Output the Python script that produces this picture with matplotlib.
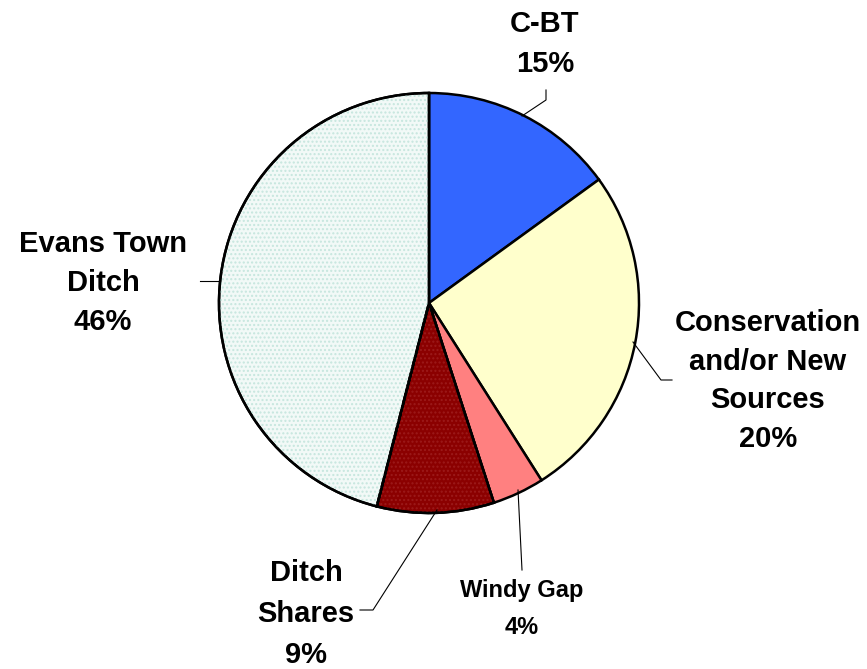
import matplotlib.pyplot as plt
from matplotlib.patches import Wedge

plt.rcParams['font.family'] = ['Liberation Sans', 'DejaVu Sans']

# slice data (clockwise from 12 o'clock)
sources = ["C-BT", "Conservation\nand/or New\nSources", "Windy Gap", "Ditch\nShares", "Evans Town\nDitch"]
shares = [15, 26, 4, 9, 46]          # slice sizes as drawn
label_pcts = ["15%", "20%", "4%", "9%", "46%"]  # percentages printed in labels
colors = ["#3366ff", "#ffffcc", "#ff8080", "#8b0000", "#f2f9f7"]
hatch_colors = [None, None, None, "#9c1a1a", "#c6e6de"]

fig = plt.figure(figsize=(8.67, 6.69), dpi=100)
ax = fig.add_axes([0, 0, 1, 1])

center = (429, 669 - 303)
radius = 210

wedges, _ = ax.pie(shares, colors=colors, startangle=90, counterclock=False,
                   center=center, radius=radius, frame=True,
                   wedgeprops=dict(edgecolor="black", linewidth=1.8))

# dotted texture on two slices, outline redrawn on top
for w, hc in zip(wedges, hatch_colors):
    if hc is None:
        continue
    ax.add_patch(Wedge(w.center, w.r, w.theta1, w.theta2, facecolor="none",
                       edgecolor=hc, linewidth=0, hatch="...."))
    ax.add_patch(Wedge(w.center, w.r, w.theta1, w.theta2, facecolor="none",
                       edgecolor="black", linewidth=1.8))

def Y(y):
    return 669 - y

# leader lines (pixel coordinates of the reference)
leaders = [
    [(522, 116), (546, 100), (546, 90)],
    [(633, 342), (661, 380), (672, 380)],
    [(518, 490), (522, 570)],
    [(437, 510), (373, 610), (360, 610)],
    [(220, 281), (200, 281)],
]
for pts in leaders:
    ax.plot([p[0] for p in pts], [Y(p[1]) for p in pts], color="black", lw=0.8)

big = dict(fontsize=21, fontweight="bold", ha="center", va="center")
ax.text(545, Y(44), sources[0] + "\n" + label_pcts[0], linespacing=1.56, **big)
ax.text(768, Y(381), sources[1] + "\n" + label_pcts[1], linespacing=1.47, **big)
ax.text(522, Y(609), sources[2] + "\n" + label_pcts[2], fontsize=17, fontweight="bold",
        ha="center", va="center", linespacing=1.73)
ax.text(306, Y(614), sources[3] + "\n" + label_pcts[3], linespacing=1.58, **big)
ax.text(103, Y(283), sources[4] + "\n" + label_pcts[4], linespacing=1.52, **big)

ax.set_xlim(0, 867)
ax.set_ylim(0, 669)
ax.set_aspect("equal")
ax.axis("off")

fig.savefig("out.png", dpi=100)
